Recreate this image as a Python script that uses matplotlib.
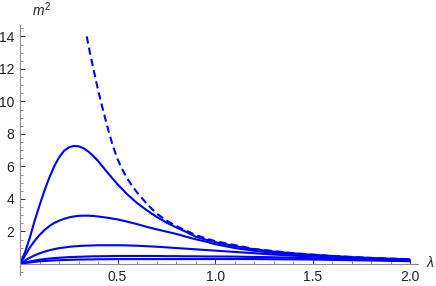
import matplotlib
matplotlib.use("Agg")
import matplotlib.pyplot as plt
from matplotlib.ticker import MultipleLocator, FixedLocator

plt.rcParams['font.family'] = ['Liberation Sans', 'DejaVu Sans']
plt.rcParams['mathtext.fontset'] = 'custom'
plt.rcParams['mathtext.rm'] = 'Liberation Sans'
plt.rcParams['mathtext.it'] = 'Liberation Sans:italic'

# lambda grid used for the five solid curves
lam = [0, .025, .05, .075, .1, .125, .15, .175, .2, .225, .25, .275, .3, .325,
       .35, .375, .4, .45, .5, .55, .6, .65, .7, .75, .8, .85, .9, .95, 1.0,
       1.1, 1.2, 1.3, 1.4, 1.5, 1.6, 1.7, 1.8, 1.9, 2.0]

m2_a = [0, 0.7, 1.6, 2.65, 3.6, 4.5, 5.3, 6.0, 6.55, 6.95, 7.17, 7.26, 7.24, 7.12,
        6.92, 6.65, 6.33, 5.6, 4.9, 4.28, 3.75, 3.3, 2.9, 2.55, 2.25, 1.98, 1.68, 1.5, 1.34,
        1.1, 0.9, 0.76, 0.65, 0.56, 0.49, 0.42, 0.37, 0.32, 0.28]
m2_b = [0, 0.5, 1.0, 1.42, 1.78, 2.08, 2.32, 2.52, 2.66, 2.77, 2.86, 2.92, 2.96, 2.97,
        2.97, 2.95, 2.92, 2.84, 2.74, 2.6, 2.45, 2.28, 2.13, 1.99, 1.85, 1.68, 1.52, 1.38, 1.22,
        0.98, 0.81, 0.68, 0.58, 0.5, 0.43, 0.37, 0.32, 0.28, 0.25]
m2_c = [0, 0.2, 0.38, 0.53, 0.65, 0.75, 0.84, 0.91, 0.97, 1.01, 1.05, 1.08, 1.1, 1.12,
        1.13, 1.14, 1.15, 1.15, 1.15, 1.14, 1.12, 1.09, 1.06, 1.02, 0.98, 0.94, 0.9, 0.86, 0.82,
        0.74, 0.66, 0.58, 0.51, 0.45, 0.4, 0.35, 0.3, 0.26, 0.22]
m2_d = [0, 0.08, 0.15, 0.21, 0.26, 0.3, 0.33, 0.36, 0.38, 0.4, 0.42, 0.43, 0.44, 0.45,
        0.46, 0.47, 0.47, 0.48, 0.49, 0.49, 0.49, 0.49, 0.49, 0.48, 0.48, 0.47, 0.47, 0.46, 0.46,
        0.45, 0.43, 0.41, 0.38, 0.35, 0.32, 0.29, 0.26, 0.23, 0.2]
m2_e = [0, 0.05, 0.09, 0.13, 0.16, 0.18, 0.2, 0.22, 0.23, 0.24, 0.25, 0.26, 0.27, 0.27,
        0.28, 0.28, 0.29, 0.29, 0.3, 0.3, 0.3, 0.3, 0.3, 0.3, 0.3, 0.3, 0.3, 0.3, 0.3,
        0.3, 0.3, 0.29, 0.28, 0.27, 0.25, 0.23, 0.21, 0.19, 0.17]

# dashed limiting curve
lam_dash = [0.342, 0.36, 0.38, 0.4, 0.425, 0.45, 0.475, 0.5, 0.525, 0.55, 0.575, 0.6,
            0.65, 0.7, 0.75, 0.8, 0.9, 1.0, 1.2, 1.4, 1.6, 1.8, 2.0]
m2_dash = [14.0, 12.9, 11.8, 10.7, 9.5, 8.35, 7.3, 6.45, 5.8, 5.25, 4.8, 4.4,
           3.7, 3.1, 2.68, 2.33, 1.78, 1.4, 0.92, 0.66, 0.49, 0.37, 0.29]

x_ticks = [0.5, 1.0, 1.5, 2.0]
y_ticks = [2, 4, 6, 8, 10, 12, 14]

fig = plt.figure(figsize=(4.36, 2.86), dpi=100)
ax = fig.add_axes([20/436, 1-275/286, 398/436, 250/286])

blue = (0, 0, 1)
for ys in [m2_a, m2_b, m2_c, m2_d, m2_e]:
    ax.plot(lam, ys, color=blue, lw=1.5, solid_capstyle='butt')
ax.plot(lam_dash, m2_dash, color=blue, lw=1.5, dashes=(3.5, 2))

ax.set_xlim(0, 2.04)
ax.set_ylim(-0.68, 14.7)

for s in ['top', 'right']:
    ax.spines[s].set_visible(False)
ax.spines['bottom'].set_position(('data', 0))
ax.spines['left'].set_position(('data', 0))
for s in ['bottom', 'left']:
    ax.spines[s].set_color('#8c8c8c')
    ax.spines[s].set_linewidth(0.8)

ax.xaxis.set_major_locator(FixedLocator(x_ticks))
ax.yaxis.set_major_locator(FixedLocator(y_ticks))
ax.xaxis.set_minor_locator(MultipleLocator(0.1))
ax.yaxis.set_minor_locator(MultipleLocator(0.5))
ax.set_xticklabels(['0.5', '1.0', '1.5', '2.0'])
ax.tick_params(which='major', direction='in', length=3.5, width=0.7, color='#333333',
               labelsize=10, labelcolor='#222222', pad=4)
ax.tick_params(which='minor', direction='in', length=2, width=0.5, color='#666666')

fig.text(42/436, 1-10/286, r'$m^2$', fontsize=10, ha='center', va='center', color='#222222')
fig.text(430/436, 1-263/286, 'λ', fontsize=10, style='italic', ha='center', va='center',
         color='#222222')

fig.savefig('out.png', dpi=100)
